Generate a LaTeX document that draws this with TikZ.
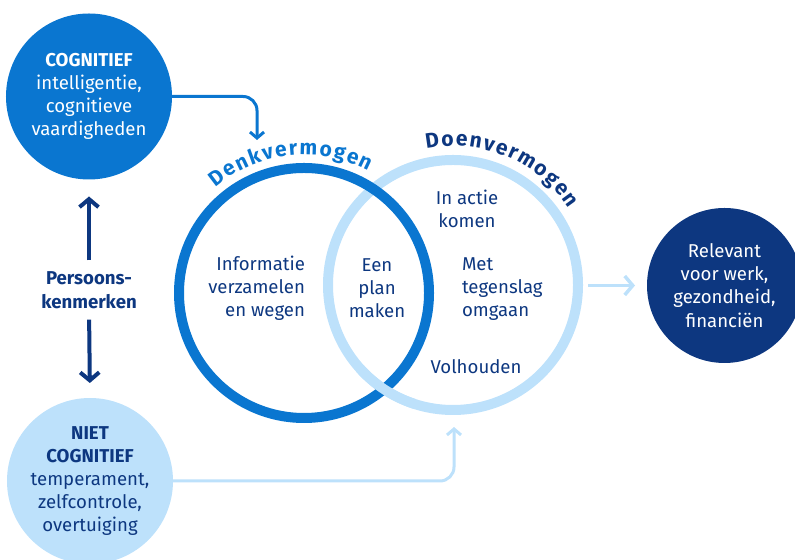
\documentclass[tikz,border=0pt]{standalone}
\usepackage{fontspec}
\setmainfont{Fira Sans}
\usetikzlibrary{arrows.meta,decorations.text}
\definecolor{midblue}{HTML}{0A76D0}
\definecolor{navy}{HTML}{0D3780}
\definecolor{lightblue}{HTML}{BDE1FB}
\begin{document}
\begin{tikzpicture}[x=1bp,y=1bp,
  every node/.style={inner sep=0pt, outer sep=0pt},
  txt/.style={font=\fontsize{18.6bp}{23.2bp}\selectfont, align=center},
  bubble/.style={circle, minimum size=#1, txt},
  ringnode/.style={circle, minimum size=250bp, line width=10bp},
  barb/.style={-{Straight Barb[length=6bp,width=14bp]}},
  conn/.style={line width=3bp, rounded corners=14bp, barb},
  bigarrow/.style={line width=4bp, -{Straight Barb[length=8bp,width=19bp]}}
]
\useasboundingbox (0,0) rectangle (795,560);

% left circles
\node[bubble=166bp, fill=midblue, text=white] (cog) at (89,463.5)
  {\textbf{COGNITIEF}\\intelligentie,\\cognitieve\\vaardigheden};
\node[bubble=166bp, fill=lightblue, text=navy] (ncog) at (90,79)
  {\textbf{NIET}\\\textbf{COGNITIEF}\\temperament,\\zelfcontrole,\\overtuiging};
\node[txt, text=navy, font=\bfseries\fontsize{18.6bp}{24bp}\selectfont] (pk) at (89,270)
  {Persoons-\\kenmerken};

% right circle
\node[bubble=155bp, fill=navy, text=white] (rel) at (724.5,274.5)
  {Relevant\\voor werk,\\gezondheid,\\financiën};

% rings
\node[ringnode, draw=lightblue] (doen) at (453,275) {};
\node[ringnode, draw=midblue] (denk) at (304,267) {};
\draw[lightblue, line width=10bp] ([shift={(222:125)}]doen.center) arc[start angle=222, end angle=252, radius=125];

% curved labels
\path[decorate, decoration={text along path, text color=midblue,
   text={|\bfseries\fontsize{21bp}{21bp}\selectfont|Denkvermogen}, text align=fit to path}]
   ([shift={(130:138)}]denk.center) arc[start angle=130, end angle=62, radius=138];
\path[decorate, decoration={text along path, text color=navy,
   text={|\bfseries\fontsize{21bp}{21bp}\selectfont|Doenvermogen}, text align=fit to path}]
   ([shift={(101:139)}]doen.center) arc[start angle=101, end angle=33.5, radius=139];

% inner texts
\node[txt, text=navy, align=right, anchor=east] (info) at (305,272) {Informatie\\verzamelen\\en wegen};
\node[txt, text=navy] (plan) at (377,272) {Een\\plan\\maken};
\node[txt, text=navy, align=left, anchor=west] (met) at (462,271) {Met\\tegenslag\\omgaan};
\node[txt, text=navy] (vol) at (476,193) {Volhouden};
\node[txt, text=navy] (actie) at (467,351) {In actie\\komen};

% connectors
\coordinate (denkin) at (257,420);
\coordinate (doenin) at (454,133);
\draw[conn, midblue] (cog.east) -| (denkin);
\draw[conn, lightblue] (ncog.east) -| (doenin);
\draw[bigarrow, lightblue, line width=3.5bp, shorten <=10bp, shorten >=12bp] (doen.east |- rel.west) -- (rel.west);
\draw[bigarrow, navy, shorten <=11bp, shorten >=17bp] (pk.north) -- (cog.south);
\draw[bigarrow, navy, shorten <=11bp, shorten >=15bp] (pk.south) -- (ncog.north);
\end{tikzpicture}
\end{document}
